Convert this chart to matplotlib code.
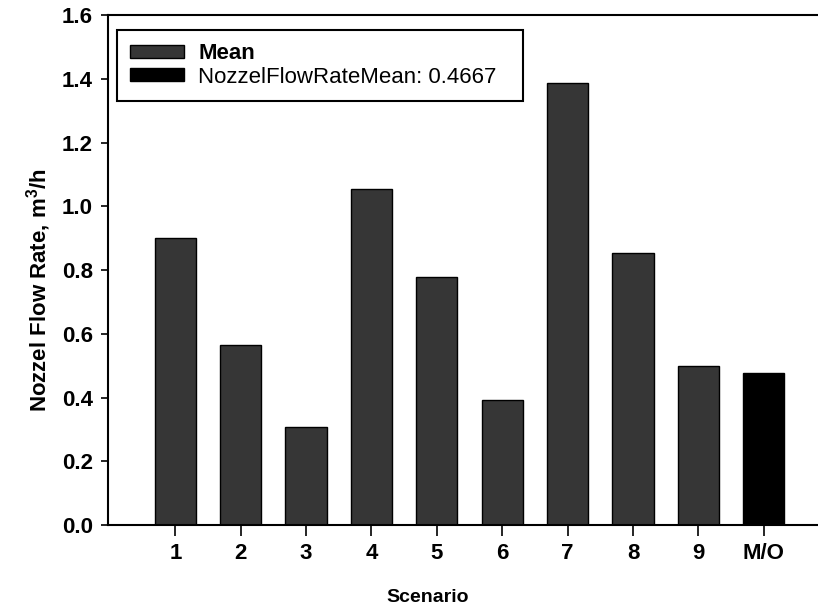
import matplotlib
matplotlib.use("Agg")
import matplotlib.pyplot as plt
import numpy as np

plt.rcParams['font.family'] = ['Liberation Sans', 'DejaVu Sans']
plt.rcParams['mathtext.fontset'] = 'custom'
plt.rcParams['mathtext.bf'] = 'Liberation Sans:bold'
plt.rcParams['mathtext.rm'] = 'Liberation Sans:bold'

# datos
escenarios = ['1', '2', '3', '4', '5', '6', '7', '8', '9', 'M/O']
media = [0.90, 0.565, 0.307, 1.054, 0.778, 0.392, 1.387, 0.853, 0.499]
media_boquilla = [0.477]
etiqueta_media = 'Mean'
etiqueta_boquilla = 'NozzelFlowRateMean: 0.4667'
ticks_y = [0.0, 0.2, 0.4, 0.6, 0.8, 1.0, 1.2, 1.4, 1.6]

fig = plt.figure(figsize=(8.18, 6.08), dpi=100)
ax = fig.add_axes([0.132, 0.1365, 0.884, 0.8388])

x = np.arange(len(escenarios))
ancho = 0.63
ax.bar(x[:len(media)], media, ancho, color='#363636', edgecolor='black',
       linewidth=1.0, label=etiqueta_media)
ax.bar(x[len(media):], media_boquilla, ancho, color='black', edgecolor='black',
       linewidth=1.0, label=etiqueta_boquilla)

ax.set_xlim(-1.03, len(escenarios) - 1 + 1.03)
ax.set_ylim(0, 1.6)
ax.set_yticks(ticks_y)
ax.set_yticklabels(['%.1f' % v for v in ticks_y], fontsize=16, fontweight='bold')
ax.set_xticks(x)
ax.set_xticklabels(escenarios, fontsize=16, fontweight='bold')
ax.tick_params(axis='y', direction='out', length=5, width=1.2, pad=6)
ax.tick_params(axis='x', direction='out', length=8, width=1.2, pad=5)

for s in ['left', 'bottom', 'top']:
    ax.spines[s].set_linewidth(1.5)
ax.spines['right'].set_visible(False)

ax.set_ylabel(r'Nozzel Flow Rate, m$^{\mathbf{3}}$/h', fontsize=16, fontweight='bold')
ax.yaxis.set_label_coords(-0.076, 0.46)
ax.set_xlabel('Scenario', fontsize=14, fontweight='bold')
ax.xaxis.set_label_coords(0.4426, -0.125)

leg = ax.legend(loc='upper left', bbox_to_anchor=(0.0124, 0.8098, 0.5615, 0.1608),
                mode='expand', borderaxespad=0, fancybox=False, framealpha=1,
                edgecolor='black', fontsize=16, handlelength=2.4, handleheight=0.5,
                handletextpad=0.65, labelspacing=0.1, borderpad=0.6)
leg.get_frame().set_linewidth(1.5)
leg.get_texts()[0].set_fontweight('bold')

fig.savefig('out.png', dpi=100)
